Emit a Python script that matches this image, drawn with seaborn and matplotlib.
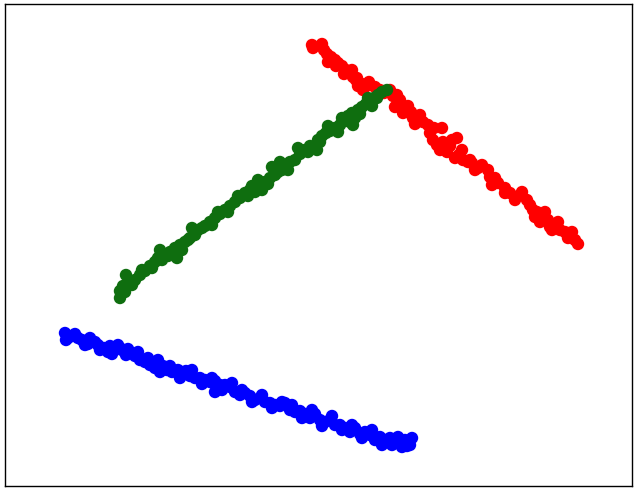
import pandas as pd
import matplotlib
matplotlib.use("Agg")
import matplotlib.pyplot as plt
import seaborn as sns

# values (pixel-like coordinates, y grows downward)
red_x = [312, 313, 322, 324, 327, 331, 335, 338, 342, 346, 349, 353, 356, 358, 362, 366, 370, 375, 380,
         390, 393, 397, 395, 400, 403, 407, 411, 413, 418, 420, 423, 428, 430, 433, 442, 443, 440, 447,
         450, 457, 455, 459, 462, 468, 470, 472, 478, 488, 490, 492, 498, 505, 510, 520, 527, 530, 537,
         535, 545, 548, 550, 555, 560, 565, 570, 575, 578,
         328, 336, 344, 352, 357, 363, 369, 384, 398, 408, 415, 434, 437, 452, 463, 475, 482, 495,
         505, 515, 522, 533, 540, 552, 558, 568, 572]
red_y = [45, 48, 44, 50, 54, 57, 60, 63, 66, 70, 73, 77, 80, 86, 84, 86, 85, 87, 90,
         90, 96, 95, 107, 100, 113, 112, 112, 118, 118, 115, 122, 125, 133, 140, 128, 142, 150, 152,
         146, 138, 158, 155, 150, 162, 160, 163, 168, 170, 177, 185, 183, 188, 193, 195, 200, 205, 212,
         217, 212, 220, 227, 225, 230, 232, 236, 240, 244,
         62, 66, 74, 70, 78, 90, 82, 93, 104, 106, 124, 128, 145, 140, 160, 170, 165, 178,
         193, 200, 192, 210, 222, 230, 222, 238, 232]

green_x = [120, 120, 123, 130, 126, 135, 140, 145, 150, 155, 160, 158, 165, 170, 175, 177, 180, 185,
           190, 192, 195, 198, 205, 210, 215, 220, 225, 230, 235, 240, 245, 250, 252, 255, 260, 265,
           270, 272, 275, 278, 282, 286, 290, 295, 300, 305, 310, 317, 318, 322, 326, 330, 335, 340,
           345, 348, 350, 352, 355, 358, 362, 366, 370, 374, 377, 378, 382, 387,
           125, 132, 142, 152, 162, 168, 182, 188, 202, 212, 218, 228, 238, 248, 258, 262, 268, 280,
           288, 298, 308, 320, 328, 338, 342, 353, 360, 368, 372]
green_y = [298, 291, 286, 282, 275, 280, 275, 271, 266, 262, 250, 258, 255, 252, 248, 258, 245, 242,
           238, 228, 235, 230, 226, 222, 218, 214, 210, 206, 202, 198, 193, 190, 186, 192, 186, 182,
           178, 167, 175, 172, 170, 165, 162, 160, 154, 150, 146, 150, 140, 136, 133, 131, 128, 125,
           121, 116, 122, 113, 118, 110, 107, 104, 101, 98, 98, 95, 92, 90,
           292, 285, 270, 268, 260, 256, 250, 240, 228, 225, 212, 212, 196, 196, 180, 190, 184, 162,
           170, 148, 152, 142, 126, 132, 118, 125, 114, 98, 106]

blue_x = [65, 68, 72, 78, 82, 90, 95, 85, 100, 104, 108, 110, 115, 118, 122, 126, 130, 135, 140, 145,
          150, 155, 158, 163, 167, 172, 178, 182, 186, 190, 195, 200, 205, 210, 215, 215, 220, 225, 230,
          235, 240, 245, 250, 255, 260, 265, 270, 275, 280, 285, 290, 295, 300, 305, 310, 315, 320, 325,
          330, 335, 340, 345, 350, 355, 360, 365, 370, 375, 380, 385, 390, 395, 402, 405, 410, 412,
          66, 75, 88, 98, 112, 120, 128, 138, 148, 160, 170, 180, 192, 202, 212, 222, 232, 242, 252,
          262, 272, 282, 292, 302, 312, 322, 332, 342, 352, 362, 372, 382, 392, 398, 407]
blue_y = [333, 338, 336, 338, 340, 338, 342, 345, 350, 348, 352, 346, 348, 345, 350, 355, 352, 356, 360, 362,
          365, 368, 360, 366, 370, 372, 370, 375, 371, 376, 378, 378, 380, 382, 392, 381, 385, 385, 387,
          392, 395, 393, 396, 400, 398, 402, 403, 405, 406, 403, 410, 412, 411, 414, 418, 414, 420, 422,
          420, 425, 425, 428, 432, 428, 434, 432, 435, 440, 437, 440, 438, 442, 447, 440, 445, 438,
          340, 334, 344, 345, 354, 348, 349, 352, 358, 372, 366, 378, 370, 384, 378, 390, 383, 390, 402,
          395, 408, 402, 405, 418, 410, 426, 416, 430, 425, 438, 430, 445, 445, 437, 446]

df = pd.concat([
    pd.DataFrame({"x": red_x, "y": red_y, "group": "red"}),
    pd.DataFrame({"x": green_x, "y": green_y, "group": "green"}),
    pd.DataFrame({"x": blue_x, "y": blue_y, "group": "blue"}),
])

sns.set_style("white")
fig = plt.figure(figsize=(6.37, 4.95), dpi=100)
ax = fig.add_axes([5 / 637, 9 / 495, 627 / 637, 482 / 495])
sns.scatterplot(data=df, x="x", y="y", hue="group",
                palette={"red": "#ff0000", "green": "#0f6e0f", "blue": "#0000ff"},
                s=80, linewidth=0, legend=False, ax=ax)
ax.set_xlim(5, 632)
ax.set_ylim(486, 4)
ax.set_xticks([])
ax.set_yticks([])
ax.set_xlabel("")
ax.set_ylabel("")
for sp in ax.spines.values():
    sp.set_color("black")
    sp.set_linewidth(1.0)
fig.savefig("out.png", dpi=100)
